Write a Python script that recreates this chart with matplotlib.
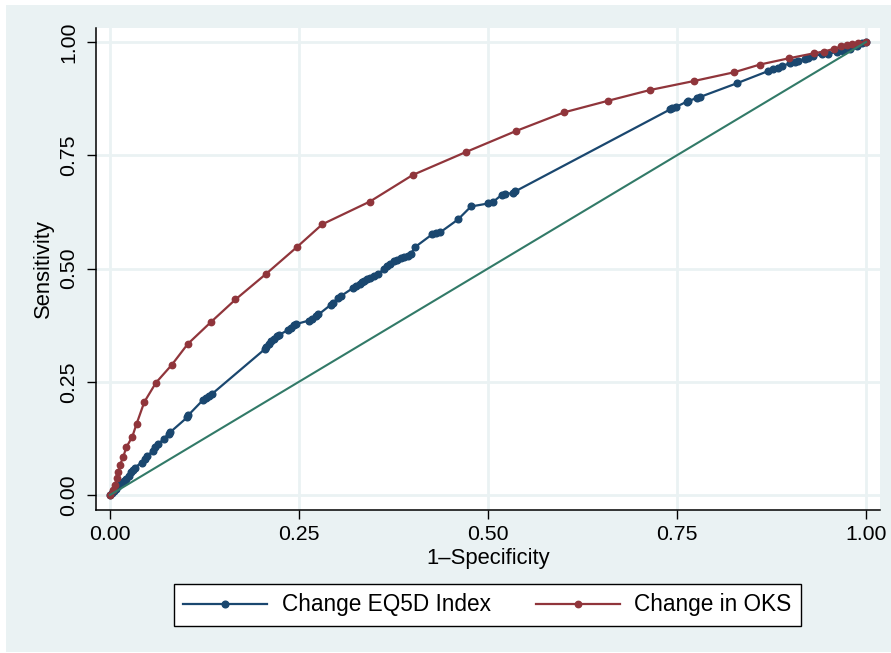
import matplotlib
matplotlib.use("Agg")
import matplotlib.pyplot as plt
from matplotlib.patches import Rectangle

plt.rcParams['font.family'] = ['Liberation Sans', 'DejaVu Sans']

# ROC coordinates (1-specificity, sensitivity)
eq5d_fpr = [0.000, 0.0026, 0.0053, 0.0086, 0.0112, 0.0152, 0.0179, 0.0218, 0.0258, 0.0284,
            0.0304, 0.0331, 0.0417, 0.0463, 0.0489, 0.0575, 0.0602, 0.0635, 0.0714, 0.0774,
            0.0800, 0.1019, 0.1038, 0.1230, 0.1270, 0.1310, 0.1349, 0.2050, 0.2070, 0.2097,
            0.2136, 0.2169, 0.2209, 0.2235, 0.2354, 0.2394, 0.2434, 0.2467, 0.2632, 0.2672,
            0.2731, 0.2758, 0.2917, 0.2950, 0.3016, 0.3056, 0.3214, 0.3254, 0.3307, 0.3333,
            0.3360, 0.3399, 0.3439, 0.3492, 0.3545, 0.3624, 0.3664, 0.3704, 0.3757, 0.3796,
            0.3849, 0.3889, 0.3942, 0.3981, 0.4028, 0.4259, 0.4312, 0.4365, 0.4603, 0.4775,
            0.5000, 0.5066, 0.5179, 0.5225, 0.5331, 0.5357, 0.7407, 0.7434, 0.7493, 0.7628,
            0.7649, 0.7765, 0.7804, 0.8290, 0.8708, 0.8774, 0.8836, 0.8885, 0.8995, 0.9061,
            0.9104, 0.9193, 0.9237, 0.9303, 0.9414, 0.9501, 0.9612, 0.9700, 0.9788, 0.9877,
            0.9943, 1.000]
eq5d_tpr = [0.000, 0.0044, 0.0099, 0.0143, 0.0188, 0.0265, 0.0309, 0.0353, 0.0419, 0.0497,
            0.0552, 0.0607, 0.0717, 0.0795, 0.0861, 0.0982, 0.1060, 0.1115, 0.1247, 0.1347,
            0.1391, 0.1711, 0.1766, 0.2097, 0.2141, 0.2185, 0.2230, 0.3223, 0.3267, 0.3333,
            0.3389, 0.3444, 0.3499, 0.3532, 0.3642, 0.3687, 0.3742, 0.3775, 0.3852, 0.3896,
            0.3962, 0.3985, 0.4194, 0.4249, 0.4338, 0.4393, 0.4570, 0.4603, 0.4658, 0.4702,
            0.4735, 0.4779, 0.4801, 0.4834, 0.4868, 0.5000, 0.5055, 0.5099, 0.5155, 0.5188,
            0.5221, 0.5243, 0.5287, 0.5320, 0.5464, 0.5751, 0.5773, 0.5795, 0.6082, 0.6369,
            0.6435, 0.6468, 0.6623, 0.6645, 0.6667, 0.6700, 0.8510, 0.8536, 0.8572, 0.8682,
            0.8698, 0.8764, 0.8786, 0.9088, 0.9360, 0.9397, 0.9437, 0.9470, 0.9530, 0.9558,
            0.9581, 0.9631, 0.9647, 0.9691, 0.9729, 0.9742, 0.9779, 0.9801, 0.9839, 0.9912,
            0.9971, 1.000]

oks_fpr = [0.000, 0.0044, 0.0066, 0.0089, 0.0110, 0.0132, 0.0176, 0.0216, 0.0295, 0.0351,
           0.0454, 0.0608, 0.0816, 0.1028, 0.1336, 0.1660, 0.2063, 0.2478, 0.2808, 0.3439,
           0.4004, 0.4709, 0.5370, 0.6009, 0.6591, 0.7143, 0.7725, 0.8254, 0.8598, 0.8985,
           0.9312, 0.9444, 0.9577, 0.9669, 0.9749, 0.9815, 0.9897, 1.000]
oks_tpr = [0.000, 0.0110, 0.0221, 0.0369, 0.0514, 0.0662, 0.0845, 0.1053, 0.1287, 0.1567,
           0.2053, 0.2479, 0.2870, 0.3333, 0.3819, 0.4316, 0.4879, 0.5481, 0.5976, 0.6479,
           0.7064, 0.7572, 0.8035, 0.8448, 0.8704, 0.8940, 0.9139, 0.9331, 0.9503, 0.9642,
           0.9751, 0.9790, 0.9850, 0.9901, 0.9934, 0.9952, 0.9978, 1.000]

ticks = [0.0, 0.25, 0.5, 0.75, 1.0]
tick_labels = ["0.00", "0.25", "0.50", "0.75", "1.00"]

BG = "#eaf2f3"
NAVY = "#1a476f"
MAROON = "#90353b"
TEAL = "#327a68"
FS = 15.3
LEG_FS = 16.3

fig = plt.figure(figsize=(8.91, 6.53), dpi=100, facecolor="white")
fig.patches.append(Rectangle((6 / 891, 1.5 / 653), 1.0, (653 - 6.5) / 653,
                             transform=fig.transFigure, facecolor=BG,
                             edgecolor="none", zorder=-10))

ax = fig.add_axes([96 / 891, 1 - 510 / 653, 784 / 891, 482 / 653])
ax.set_facecolor("white")

ax.plot(eq5d_fpr, eq5d_tpr, color=NAVY, lw=1.6, marker="o", ms=4.8,
        mec=NAVY, mfc=NAVY, label="Change EQ5D Index", zorder=3)
ax.plot(oks_fpr, oks_tpr, color=MAROON, lw=1.6, marker="o", ms=4.6,
        mec=MAROON, mfc=MAROON, label="Change in OKS", zorder=4)
ax.plot([0, 1], [0, 1], color=TEAL, lw=1.5, zorder=5)

ax.set_xlim(-0.0185, 1.0185)
ax.set_ylim(-0.0331, 1.0309)
ax.set_xticks(ticks)
ax.set_xticklabels(tick_labels)
ax.set_yticks(ticks)
ax.set_yticklabels(tick_labels, rotation=90, va="center")
ax.grid(True, color=BG, lw=2.0, zorder=0)
ax.set_axisbelow(True)

for side in ("top", "right"):
    ax.spines[side].set_visible(False)
for side in ("left", "bottom"):
    ax.spines[side].set_color("black")
    ax.spines[side].set_linewidth(1.1)

ax.tick_params(axis="both", direction="out", length=6.8, width=1.0,
               color="black", labelsize=FS, labelcolor="black")
ax.tick_params(axis="y", pad=6)
ax.tick_params(axis="x", pad=4)

ax.set_xlabel("1\u2013Specificity", fontsize=FS + 0.5, labelpad=3)
ax.set_ylabel("Sensitivity", fontsize=FS + 0.5, labelpad=4)

leg = fig.legend(loc="center", bbox_to_anchor=(487.5 / 891, 1 - 605 / 653),
                 ncol=2, fontsize=LEG_FS, frameon=True, fancybox=False,
                 edgecolor="black", facecolor="white", framealpha=1,
                 handlelength=3.7, handletextpad=0.65, columnspacing=2.0,
                 borderpad=0.4, numpoints=1)
leg.get_frame().set_linewidth(1.0)

fig.savefig("out.png", dpi=100, facecolor=fig.get_facecolor())
